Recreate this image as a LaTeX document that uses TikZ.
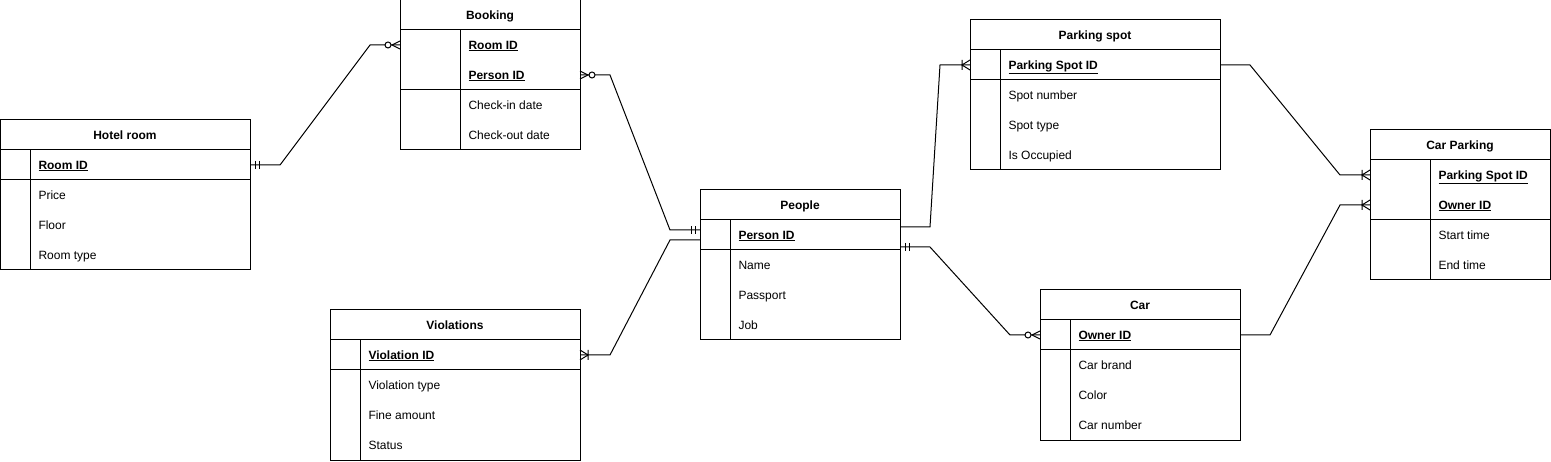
\documentclass[tikz,border=0pt]{standalone}
\usepackage{fontspec}
\setmainfont{Liberation Sans}
\usetikzlibrary{positioning}
\tikzset{
  ent/.style={draw,minimum height=30pt,inner sep=0pt,outer sep=0pt,anchor=north west,
    text height=9.6pt,text depth=1.4pt},
  ttl/.style={ent,font=\fontsize{12}{14}\selectfont\bfseries},
  fld/.style={anchor=west,inner sep=0pt,text height=9.6pt,text depth=1.4pt},
  mone/.pic={\draw (5,-4)--(5,4) (9,-4)--(9,4);},
  zmany/.pic={\draw (0,-4)--(8,0)--(0,4);
    \draw[fill=white] (12,0) circle[radius=3pt];},
  omany/.pic={\draw (0,-5)--(8,0)--(0,5) (8,-5)--(8,5);}
}
\newcommand{\keyf}[1]{\underline{\textbf{#1}}}
\begin{document}
\begin{tikzpicture}[x=1pt,y=-1pt,line width=1pt,font=\fontsize{12}{14}\selectfont]
\useasboundingbox (0,0) rectangle (1551,462);
% Hotel room
\node[ttl,minimum width=250pt] (hrt) at (0,120) {Hotel room};
\node[ent,minimum width=250pt] (hrk) at (0,150) {};
\node[ent,minimum width=250pt,minimum height=90pt] (hra) at (0,180) {};
\draw ([xshift=30pt]hrk.north west)--([xshift=30pt]hra.south west);
\node[fld] (hrid) at (38,165) {\keyf{Room ID}};
\node[fld] (hrprice) at (38,195) {Price};
\node[fld] (hrfloor) at (38,225) {Floor};
\node[fld] (hrtype) at (38,255) {Room type};
% Booking
\node[ttl,minimum width=180pt] (bkt) at (400,0) {Booking};
\node[ent,minimum width=180pt,minimum height=60pt] (bkk) at (400,30) {};
\node[ent,minimum width=180pt,minimum height=60pt] (bka) at (400,90) {};
\draw ([xshift=60pt]bkk.north west)--([xshift=60pt]bka.south west);
\node[fld] (bkroom) at (468,45) {\keyf{Room ID}};
\node[fld] (bkper) at (468,75) {\keyf{Person ID}};
\node[fld] (bkin) at (468,105) {Check-in date};
\node[fld] (bkout) at (468,135) {Check-out date};
% People
\node[ttl,minimum width=200pt] (ppt) at (700,190) {People};
\node[ent,minimum width=200pt] (ppk) at (700,220) {};
\node[ent,minimum width=200pt,minimum height=90pt] (ppa) at (700,250) {};
\draw ([xshift=30pt]ppk.north west)--([xshift=30pt]ppa.south west);
\node[fld] (ppid) at (738,235) {\keyf{Person ID}};
\node[fld] (ppname) at (738,265) {Name};
\node[fld] (pppass) at (738,295) {Passport};
\node[fld] (ppjob) at (738,325) {Job};
% Violations
\node[ttl,minimum width=250pt] (vlt) at (330,310) {Violations};
\node[ent,minimum width=250pt] (vlk) at (330,340) {};
\node[ent,minimum width=250pt,minimum height=90pt] (vla) at (330,370) {};
\draw ([xshift=30pt]vlk.north west)--([xshift=30pt]vla.south west);
\node[fld] (vlid) at (368,355) {\keyf{Violation ID}};
\node[fld] (vltype) at (368,385) {Violation type};
\node[fld] (vlfine) at (368,415) {Fine amount};
\node[fld] (vlstat) at (368,445) {Status};
% Parking spot
\node[ttl,minimum width=250pt] (pst) at (970,20) {Parking spot};
\node[ent,minimum width=250pt] (psk) at (970,50) {};
\node[ent,minimum width=250pt,minimum height=90pt] (psa) at (970,80) {};
\draw ([xshift=30pt]psk.north west)--([xshift=30pt]psa.south west);
\node[fld] (psid) at (1008,65) {\keyf{Parking Spot ID}};
\node[fld] (psnum) at (1008,95) {Spot number};
\node[fld] (pstype) at (1008,125) {Spot type};
\node[fld] (psocc) at (1008,155) {Is Occupied};
% Car Parking
\node[ttl,minimum width=180pt] (cpt) at (1370,130) {Car Parking};
\node[ent,minimum width=180pt,minimum height=60pt] (cpk) at (1370,160) {};
\node[ent,minimum width=180pt,minimum height=60pt] (cpa) at (1370,220) {};
\draw ([xshift=60pt]cpk.north west)--([xshift=60pt]cpa.south west);
\node[fld] (cpspot) at (1438,175) {\keyf{Parking Spot ID}};
\node[fld] (cpown) at (1438,205) {\keyf{Owner ID}};
\node[fld] (cpstart) at (1438,235) {Start time};
\node[fld] (cpend) at (1438,265) {End time};
% Car
\node[ttl,minimum width=200pt] (crt) at (1040,290) {Car};
\node[ent,minimum width=200pt] (crk) at (1040,320) {};
\node[ent,minimum width=200pt,minimum height=90pt] (cra) at (1040,350) {};
\draw ([xshift=30pt]crk.north west)--([xshift=30pt]cra.south west);
\node[fld] (crid) at (1078,335) {\keyf{Owner ID}};
\node[fld] (crbrand) at (1078,365) {Car brand};
\node[fld] (crcol) at (1078,395) {Color};
\node[fld] (crnum) at (1078,425) {Car number};
%
% relations
\draw (hrk.east)--++(30,0)--++(90,-120)--(bkroom -| bkk.west);
\pic at (hrk.east) {mone};
\pic[rotate=180] at (bkroom -| bkk.west) {zmany};
\draw (bkper -| bkk.east)--++(30,0)--++(60,155)--([yshift=5pt]ppk.west);
\pic at (bkper -| bkk.east) {zmany};
\pic[rotate=180] at ([yshift=5pt]ppk.west) {mone};
\draw (vlk.east)--++(30,0)--++(60,-115)--([yshift=-5pt]ppk.west);
\pic at (vlk.east) {omany};
\draw ([yshift=8pt]ppk.east)--++(30,0)--++(10,-162)--(psk.west);
\pic[rotate=180] at (psk.west) {omany};
\draw ([yshift=-12pt]ppk.east)--++(30,0)--++(80,88)--(crk.west);
\pic at ([yshift=-12pt]ppk.east) {mone};
\pic[rotate=180] at (crk.west) {zmany};
\draw (psk.east)--++(30,0)--++(90,110)--(cpspot -| cpk.west);
\pic[rotate=180] at (cpspot -| cpk.west) {omany};
\draw (crk.east)--++(30,0)--++(70,-130)--(cpown -| cpk.west);
\pic[rotate=180] at (cpown -| cpk.west) {omany};
\end{tikzpicture}
\end{document}
